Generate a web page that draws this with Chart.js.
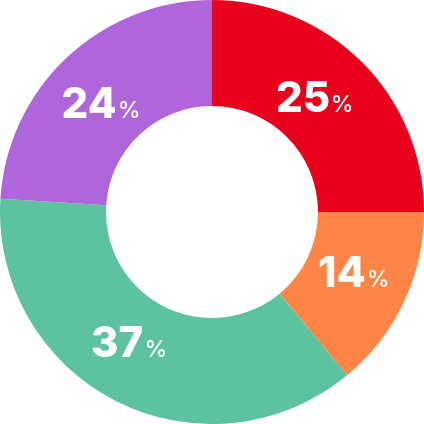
<!DOCTYPE html>
<html><head><meta charset="utf-8">
<script src="https://cdn.jsdelivr.net/npm/chart.js@4"></script>
<style>html,body{margin:0;padding:0;background:#fff}#wrap{width:424px;height:424px}</style>
</head><body><div id="wrap"><canvas id="c"></canvas></div>
<script>
const categories = ["A", "B", "C", "D"];
const values = [25, 14, 37, 24];
const colors = ["#E8001C", "#FF8547", "#5DC39E", "#B066DB"];

// small visual nudges of the value labels relative to each arc's mid point
const labelNudge = [[-10, -3], [-2.5, -8.5], [-11, -12], [-2.5, 6]];

const NUM_FONT = '800 42px Inter';
const PCT_FONT = '500 23px Inter';

const labelPlugin = {
  id: 'pctLabels',
  afterDatasetsDraw(chart) {
    const ctx = chart.ctx;
    const meta = chart.getDatasetMeta(0);
    meta.data.forEach((arc, i) => {
      const p = arc.tooltipPosition();
      const num = String(values[i]);
      ctx.save();
      ctx.fillStyle = '#fff';
      ctx.textBaseline = 'alphabetic';
      ctx.textAlign = 'left';
      ctx.font = NUM_FONT;
      const m1 = ctx.measureText(num);
      const cap = m1.actualBoundingBoxAscent;
      ctx.font = PCT_FONT;
      const m2 = ctx.measureText('%');
      const gap = 4;
      const w1 = m1.actualBoundingBoxLeft + m1.actualBoundingBoxRight;
      const w2 = m2.actualBoundingBoxLeft + m2.actualBoundingBoxRight;
      const total = w1 + gap + w2;
      const cx = p.x + labelNudge[i][0];
      const cy = p.y + labelNudge[i][1];
      const left = cx - total / 2;
      const base = cy + cap / 2;
      ctx.font = NUM_FONT;
      ctx.fillText(num, left + m1.actualBoundingBoxLeft, base);
      ctx.font = PCT_FONT;
      ctx.fillText('%', left + w1 + gap + m2.actualBoundingBoxLeft, base);
      ctx.restore();
    });
  }
};

new Chart(document.getElementById('c'), {
  type: 'doughnut',
  data: { labels: categories, datasets: [{ data: values, backgroundColor: colors, borderWidth: 0 }] },
  options: {
    responsive: true, maintainAspectRatio: false, animation: false,
    cutout: '50%',
    layout: { padding: 0 },
    plugins: { legend: { display: false }, tooltip: { enabled: false } }
  },
  plugins: [labelPlugin]
});
</script></body></html>
